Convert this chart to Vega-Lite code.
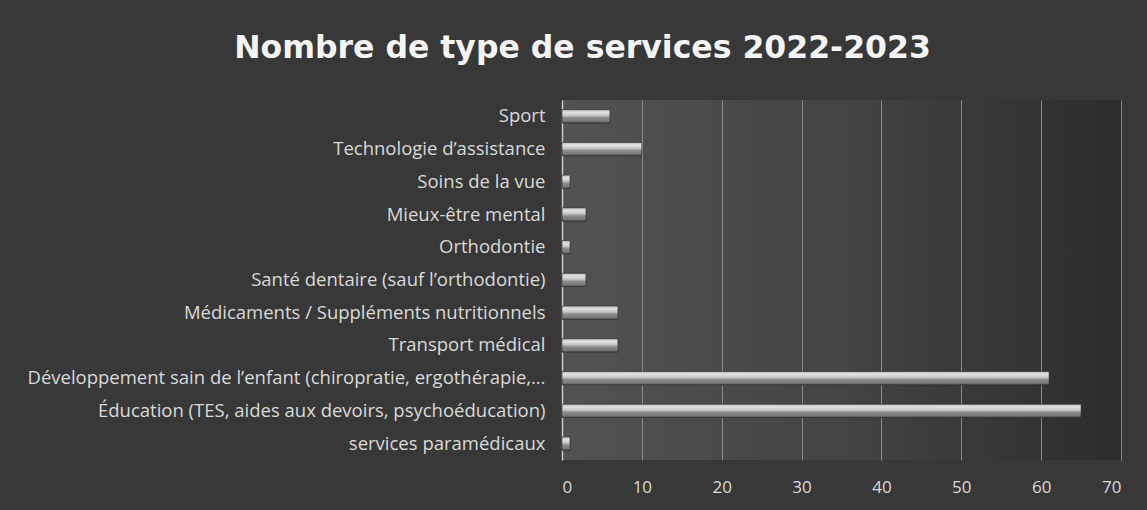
{
  "$schema": "https://vega.github.io/schema/vega-lite/v6.json",
  "width": 559,
  "height": 360,
  "autosize": {"type": "none"},
  "padding": {"left": 562, "top": 100, "right": 26, "bottom": 50},
  "background": "#383838",
  "view": {
    "stroke": null,
    "fill": {
      "gradient": "linear",
      "x1": 0, "y1": 0.5, "x2": 1, "y2": 0.5,
      "stops": [
        {"offset": 0, "color": "#525252"},
        {"offset": 0.5, "color": "#444444"},
        {"offset": 1, "color": "#2c2c2c"}
      ]
    }
  },
  "title": {
    "text": "Nombre de type de services 2022-2023",
    "anchor": "middle",
    "frame": "group",
    "dx": -259,
    "offset": 36,
    "font": "DejaVu Sans",
    "fontSize": 31.5,
    "fontWeight": "bold",
    "color": "#f4f4f4"
  },
  "data": {
    "values": [
      {"service": "Sport", "nombre": 6},
      {"service": "Technologie d’assistance", "nombre": 10},
      {"service": "Soins de la vue ", "nombre": 1},
      {"service": "Mieux-être mental ", "nombre": 3},
      {"service": "Orthodontie", "nombre": 1},
      {"service": "Santé dentaire (sauf l’orthodontie) ", "nombre": 3},
      {"service": "Médicaments / Suppléments nutritionnels", "nombre": 7},
      {"service": "Transport médical ", "nombre": 7},
      {"service": "Développement sain de l’enfant (chiropratie, ergothérapie,…", "nombre": 61},
      {"service": "Éducation (TES, aides aux devoirs, psychoéducation)", "nombre": 65},
      {"service": "services paramédicaux ", "nombre": 1}
    ]
  },
  "mark": {
    "type": "bar",
    "color": {
      "gradient": "linear",
      "x1": 0, "y1": 0, "x2": 0, "y2": 1,
      "stops": [
        {"offset": 0, "color": "#b8b8b8"},
        {"offset": 0.2, "color": "#e2e2e2"},
        {"offset": 0.45, "color": "#c4c4c4"},
        {"offset": 0.6, "color": "#8c8c8c"},
        {"offset": 0.85, "color": "#7a7a7a"},
        {"offset": 1, "color": "#4a4a4a"}
      ]
    },
    "stroke": "#2a2a2a",
    "strokeWidth": 0.6
  },
  "encoding": {
    "y": {
      "field": "service",
      "type": "nominal",
      "sort": null,
      "scale": {"paddingInner": 0.59, "paddingOuter": 0.295},
      "axis": {
        "title": null,
        "labelColor": "#dadada",
        "labelFont": "Open Sans",
        "labelFontSize": 18.5,
        "labelPadding": 17,
        "labelLimit": 600,
        "ticks": false,
        "domain": true,
        "domainColor": "#c8c8c8",
        "domainWidth": 1.5
      }
    },
    "x": {
      "field": "nombre",
      "type": "quantitative",
      "scale": {"domain": [0, 70], "nice": false},
      "axis": {
        "title": null,
        "values": [0, 10, 20, 30, 40, 50, 60, 70],
        "labelColor": "#dadada",
        "labelFont": "Open Sans",
        "labelFontSize": 17,
        "labelPadding": 19,
        "ticks": false,
        "domain": false,
        "grid": true,
        "gridColor": "#8a8a8a",
        "gridWidth": 1
      }
    }
  }
}
